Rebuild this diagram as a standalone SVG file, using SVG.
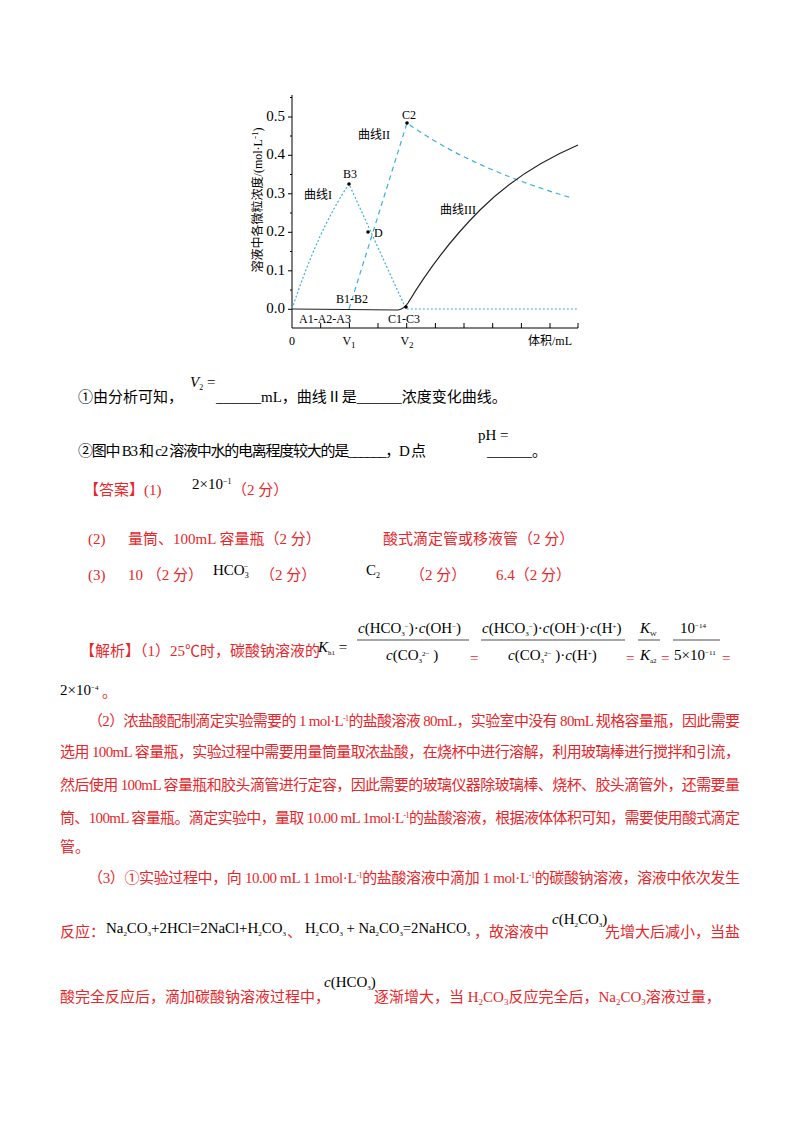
<svg xmlns="http://www.w3.org/2000/svg" width="800" height="1132" viewBox="0 0 800 1132">
<style>
text{font-family:"Liberation Serif","Noto Sans CJK SC",serif;font-size:15px;fill:#000}
.r{fill:#e8262a}
.s{font-size:12px}
.t{font-size:9px}
.ax{stroke:#000;stroke-width:1;fill:none}
.c1{stroke:#3bb0e0;stroke-width:1.2;fill:none;stroke-dasharray:2 2}
.c2{stroke:#3bb0e0;stroke-width:1.2;fill:none;stroke-dasharray:5 4}
.c3{stroke:#222;stroke-width:1.2;fill:none}
</style>
<rect width="800" height="1132" fill="#fff"/>
<g id="chart">
<path class="ax" d="M292,95 V328 H578"/>
<path class="ax" d="M288,309.3 H292 M288,270.8 H292 M288,232.3 H292 M288,193.8 H292 M288,155.3 H292 M288,117 H292 M290,290 H292 M290,251.5 H292 M290,213 H292 M290,174.5 H292 M290,136 H292 M290,97.5 H292"/>
<path class="ax" d="M320.7,328 V323 M349.4,328 V323 M378,328 V323 M406.7,328 V323 M435.4,328 V323 M464,328 V323 M492.7,328 V323 M521.4,328 V323 M550,328 V323 M578,328 V323"/>
<g class="s" text-anchor="end">
<text x="285" y="313">0.0</text><text x="285" y="274.5">0.1</text><text x="285" y="236">0.2</text><text x="285" y="197.5">0.3</text><text x="285" y="159">0.4</text><text x="285" y="121">0.5</text>
</g>
<text class="s" x="292" y="345" text-anchor="middle">0</text>
<text class="s" x="349" y="345" text-anchor="middle">V<tspan class="t" dy="3">1</tspan></text>
<text class="s" x="407" y="345" text-anchor="middle">V<tspan class="t" dy="3">2</tspan></text>
<text class="s" x="550" y="345" text-anchor="middle">体积/mL</text>
<text class="s" transform="translate(262,200) rotate(-90)" text-anchor="middle">溶液中各微粒浓度/(mol·L<tspan class="t" dy="-4">-1</tspan><tspan dy="4">)</tspan></text>
</g>
<g id="connectors">
<path class="c1" d="M292,309 Q318,230 349,184 L406,309 H578"/>
<path class="c2" d="M349,309 L407,123 Q470,168 572,198"/>
<path class="c3" d="M292,309 L398,310 Q404,309 408,303 Q440,250 480,210 Q520,170 578,145"/>
</g>
<g id="points">
<circle cx="349" cy="184" r="1.8"/><circle cx="407" cy="123" r="1.8"/><circle cx="368" cy="232" r="1.8"/><circle cx="406" cy="307" r="1.8"/>
<text class="s" x="343" y="178">B3</text>
<text class="s" x="402" y="119">C2</text>
<text class="s" x="374" y="237">D</text>
<text class="s" x="336" y="303">B1-B2</text>
<text class="s" x="299" y="323">A1-A2-A3</text>
<text class="s" x="388" y="323">C1-C3</text>
<text class="s" x="304" y="199">曲线I</text>
<text class="s" x="358" y="139">曲线II</text>
<text class="s" x="440" y="214">曲线III</text>
</g>
<g id="text">
<text x="78" y="402">①由分析可知，</text>
<text x="190" y="387" font-size="12" font-style="italic">V<tspan font-size="8" dy="3" font-style="normal">2</tspan><tspan dy="-3" font-style="normal"> =</tspan></text>
<text x="216" y="402">______mL，曲线Ⅱ是______浓度变化曲线。</text>
<text x="78" y="456" textLength="348" lengthAdjust="spacing">②图中 B3 和 c2 溶液中水的电离程度较大的是______，D 点</text>
<text x="478" y="440" font-size="13">pH =</text>
<text x="487" y="456">______。</text>
<text class="r" x="84" y="495">【答案】(1)</text>
<text x="192" y="489" font-size="12">2×10<tspan font-size="8" dy="-5">−1</tspan></text>
<text class="r" x="232" y="495">（2 分）</text>
<text class="r" x="88" y="544">(2)</text>
<text class="r" x="128" y="544">量筒、100mL 容量瓶（2 分）</text>
<text class="r" x="383" y="544">酸式滴定管或移液管（2 分）</text>
<text class="r" x="88" y="580">(3)</text>
<text class="r" x="128" y="580">10 （2 分）</text>
<text x="213" y="575" font-size="12">HCO<tspan font-size="8" dy="3">3</tspan><tspan font-size="8" dx="-5" dy="-9">−</tspan></text>
<text class="r" x="260" y="580">（2 分）</text>
<text x="366" y="575" font-size="12">C<tspan font-size="8" dy="3">2</tspan></text>
<text class="r" x="410" y="580">（2 分）</text>
<text class="r" x="496" y="580">6.4（2 分）</text>
<text class="r" x="80" y="656">【解析】（1）25℃时，碳酸钠溶液的</text>
<text x="318" y="652" font-size="12" font-style="italic">K<tspan font-size="7" dy="3" font-style="normal">h1</tspan><tspan dy="-3" font-style="normal"> =</tspan></text>
<g font-size="12">
<text x="358" y="633"><tspan font-style="italic">c</tspan>(HCO<tspan font-size="7" dy="3">3</tspan><tspan font-size="7" dy="-7">−</tspan><tspan dy="4">)</tspan>·<tspan font-style="italic">c</tspan>(OH<tspan font-size="7" dy="-4">−</tspan><tspan dy="4">)</tspan></text>
<path d="M357,640 H469" stroke="#000" stroke-width="0.7"/>
<text x="386" y="660"><tspan font-style="italic">c</tspan>(CO<tspan font-size="7" dy="3">3</tspan><tspan font-size="7" dy="-7">2−</tspan><tspan dy="4"> )</tspan></text>
<text class="r" x="470" y="663">=</text>
<text x="482" y="633"><tspan font-style="italic">c</tspan>(HCO<tspan font-size="7" dy="3">3</tspan><tspan font-size="7" dy="-7">−</tspan><tspan dy="4">)</tspan>·<tspan font-style="italic">c</tspan>(OH<tspan font-size="7" dy="-4">−</tspan><tspan dy="4">)</tspan>·<tspan font-style="italic">c</tspan>(H<tspan font-size="7" dy="-4">+</tspan><tspan dy="4">)</tspan></text>
<path d="M481,640 H625" stroke="#000" stroke-width="0.7"/>
<text x="508" y="660"><tspan font-style="italic">c</tspan>(CO<tspan font-size="7" dy="3">3</tspan><tspan font-size="7" dy="-7">2−</tspan><tspan dy="4"> )</tspan>·<tspan font-style="italic">c</tspan>(H<tspan font-size="7" dy="-4">+</tspan><tspan dy="4">)</tspan></text>
<text class="r" x="626" y="663">=</text>
<text x="640" y="633" font-style="italic">K<tspan font-size="7" dy="3" font-style="normal">W</tspan></text>
<path d="M638,640 H660" stroke="#000" stroke-width="0.7"/>
<text x="640" y="660" font-style="italic">K<tspan font-size="7" dy="3" font-style="normal">a2</tspan></text>
<text class="r" x="661" y="663">=</text>
<text x="680" y="633">10<tspan font-size="7" dy="-5">−14</tspan></text>
<path d="M673,640 H720" stroke="#000" stroke-width="0.7"/>
<text x="674" y="660">5×10<tspan font-size="7" dy="-5">−11</tspan></text>
<text class="r" x="722" y="663">=</text>
<text x="60" y="695">2×10<tspan font-size="7" dy="-5">−4</tspan></text>
</g>
<text class="r" x="102" y="697">。</text>
<text class="r" x="88" y="726" textLength="652" lengthAdjust="spacing">（2）浓盐酸配制滴定实验需要的 1 mol·L<tspan font-size="8" dy="-5">-1</tspan><tspan dy="5">的盐酸溶液 80mL，实验室中没有 80mL 规格容量瓶，因此需要</tspan></text>
<text class="r" x="60" y="757" textLength="680" lengthAdjust="spacing">选用 100mL 容量瓶，实验过程中需要用量筒量取浓盐酸，在烧杯中进行溶解，利用玻璃棒进行搅拌和引流，</text>
<text class="r" x="60" y="790" textLength="680" lengthAdjust="spacing">然后使用 100mL 容量瓶和胶头滴管进行定容，因此需要的玻璃仪器除玻璃棒、烧杯、胶头滴管外，还需要量</text>
<text class="r" x="60" y="823" textLength="680" lengthAdjust="spacing">筒、100mL 容量瓶。滴定实验中，量取 10.00 mL 1mol·L<tspan font-size="8" dy="-5">-1</tspan><tspan dy="5">的盐酸溶液，根据液体体积可知，需要使用酸式滴定</tspan></text>
<text class="r" x="60" y="852">管。</text>
<text class="r" x="88" y="883" textLength="652" lengthAdjust="spacing">（3）①实验过程中，向 10.00 mL 1 1mol·L<tspan font-size="8" dy="-5">-1</tspan><tspan dy="5">的盐酸溶液中滴加 1 mol·L</tspan><tspan font-size="8" dy="-5">-1</tspan><tspan dy="5">的碳酸钠溶液，溶液中依次发生</tspan></text>
<text class="r" x="60" y="937">反应：</text>
<text x="106" y="933" font-size="12" textLength="180" lengthAdjust="spacingAndGlyphs">Na<tspan font-size="7" dy="3">2</tspan><tspan dy="-3">CO</tspan><tspan font-size="7" dy="3">3</tspan><tspan dy="-3">+2HCl=2NaCl+H</tspan><tspan font-size="7" dy="3">2</tspan><tspan dy="-3">CO</tspan><tspan font-size="7" dy="3">3</tspan></text>
<text class="r" x="287" y="937">、</text>
<text x="305" y="933" font-size="12" textLength="165" lengthAdjust="spacingAndGlyphs">H<tspan font-size="7" dy="3">2</tspan><tspan dy="-3">CO</tspan><tspan font-size="7" dy="3">3</tspan><tspan dy="-3"> + Na</tspan><tspan font-size="7" dy="3">2</tspan><tspan dy="-3">CO</tspan><tspan font-size="7" dy="3">3</tspan><tspan dy="-3">=2NaHCO</tspan><tspan font-size="7" dy="3">3</tspan></text>
<text class="r" x="474" y="937">，故溶液中</text>
<text x="552" y="924" font-size="12"><tspan font-style="italic">c</tspan>(H<tspan font-size="7" dy="3">2</tspan><tspan dy="-3">CO</tspan><tspan font-size="7" dy="3">3</tspan><tspan dy="-3">)</tspan></text>
<text class="r" x="605" y="937">先增大后减小，当盐</text>
<text class="r" x="60" y="1002">酸完全反应后，滴加碳酸钠溶液过程中，</text>
<text x="324" y="987" font-size="12"><tspan font-style="italic">c</tspan>(HCO<tspan font-size="7" dy="3">3</tspan><tspan dy="-3">)</tspan></text>
<text class="r" x="374" y="1002">逐渐增大，当 H<tspan font-size="9" dy="3">2</tspan><tspan dy="-3">CO</tspan><tspan font-size="9" dy="3">3</tspan><tspan dy="-3">反应完全后，Na</tspan><tspan font-size="9" dy="3">2</tspan><tspan dy="-3">CO</tspan><tspan font-size="9" dy="3">3</tspan><tspan dy="-3">溶液过量，</tspan></text>
</g>
</svg>
